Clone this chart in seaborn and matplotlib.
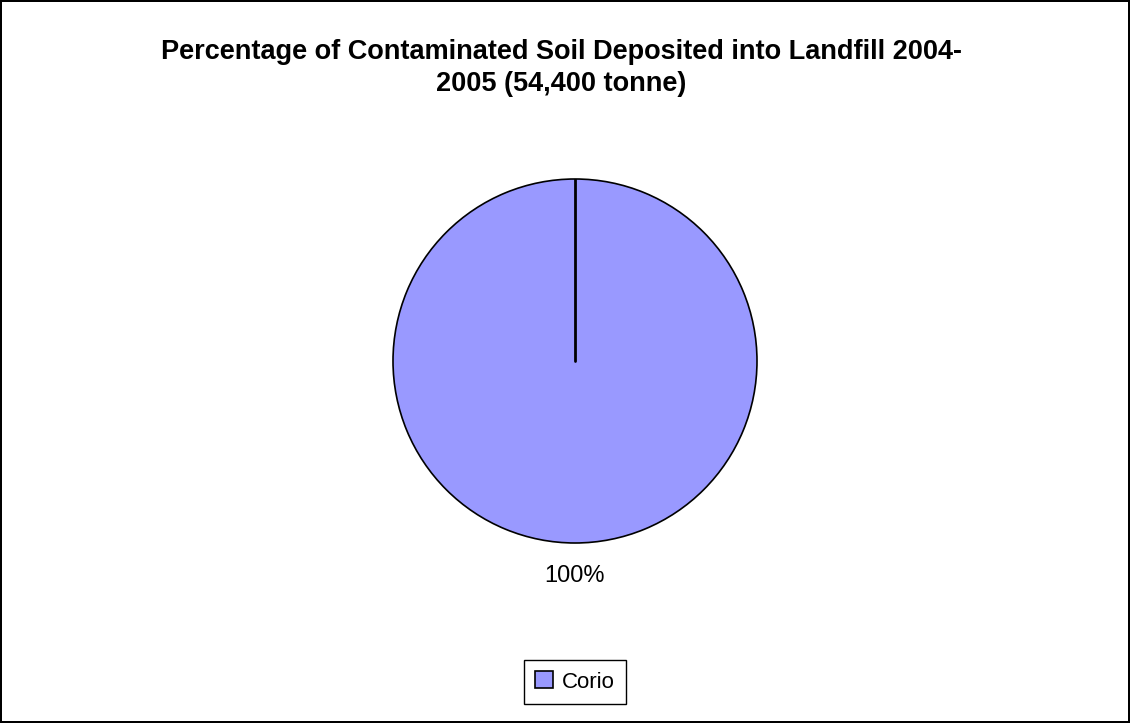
import matplotlib
matplotlib.use("Agg")
import matplotlib.pyplot as plt
import seaborn as sns
import numpy as np

# data
sites = ['Corio']
tonnes = [54400]
slice_colors = ['#9999FF']
title = 'Percentage of Contaminated Soil Deposited into Landfill 2004-\n2005 (54,400 tonne)'

sns.set_theme(style="white")
plt.rcParams['font.family'] = ['Liberation Sans', 'DejaVu Sans']
plt.rcParams['text.color'] = 'black'

fig = plt.figure(figsize=(11.3, 7.23), dpi=100, edgecolor='black', linewidth=1.5)
# axes sized so radius 1 == ~182 px, centred at (575, 361)
ax = fig.add_axes([(575 - 182) / 1130, (723 - 361 - 182) / 723, 364 / 1130, 364 / 723])

wedges, texts = ax.pie(tonnes, colors=slice_colors, startangle=90, counterclock=False,
                       autopct='%.0f%%', pctdistance=1.18,
                       wedgeprops=dict(edgecolor='black', linewidth=1.2),
                       textprops=dict(fontsize=17, color='black'))[:2]
ax.set_xlim(-1, 1)
ax.set_ylim(-1, 1)
ax.set_aspect('equal')
ax.axis('off')

# the one slice still shows its start edge, like the original
w = wedges[0]
ang = np.deg2rad(w.theta1)
ax.plot([w.center[0], w.center[0] + w.r * np.cos(ang)],
        [w.center[1], w.center[1] + w.r * np.sin(ang)], color='black', lw=2)

fig.text(0.497, 1 - 39 / 723, title, ha='center', va='top', fontsize=19.5,
         fontweight='bold', linespacing=1.3, color='black')

leg = fig.legend(wedges, sites, loc='center', bbox_to_anchor=(575 / 1130, 1 - 682 / 723),
                 fontsize=16, frameon=True, fancybox=False, framealpha=1,
                 edgecolor='black', handlelength=0.8, handleheight=0.8,
                 handletextpad=0.4, borderpad=0.5, labelcolor='black')
leg.get_frame().set_linewidth(1)

fig.savefig('out.png', dpi=100, edgecolor=fig.get_edgecolor())
